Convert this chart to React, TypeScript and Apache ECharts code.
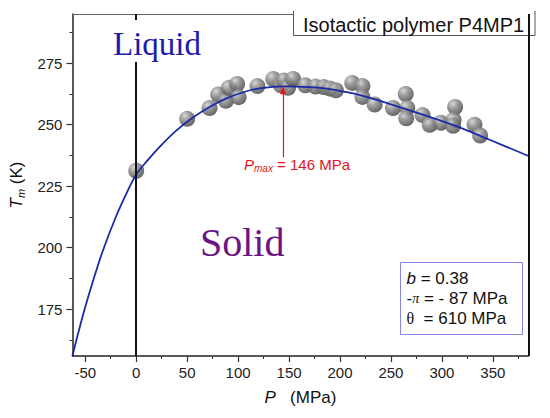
import React, { useEffect, useRef } from 'react';
import * as echarts from 'echarts';

// Measured melting points (P in MPa, Tm in K)
const pressure = [0, 50, 72, 80.5, 88, 91, 99, 100.5, 119, 134.5, 142, 145, 149, 154, 166, 176, 184, 190, 196, 212, 222, 222, 234, 252, 264.5, 266, 265, 281, 288, 299, 313, 311.5, 311, 332, 337.5];
const tempMelt = [231.3, 252.4, 256.8, 262.3, 259.7, 265, 266.6, 261.2, 265.7, 268.6, 266, 268, 265, 268.6, 266, 265.5, 265.3, 264.7, 264, 267, 265.7, 261.3, 258.2, 256.8, 262.5, 256.8, 252.6, 253.9, 250, 250.8, 257.2, 251.9, 249.6, 250, 245.6];

// Fitted melting curve
const curveP = [-62.6, -59, -51, -42, -33, -20, -7, 0, 10, 23, 39, 56, 72, 88, 105, 121, 146, 170, 185, 214, 247, 279, 312, 345, 385];
const curveT = [156, 162, 174.5, 187, 198.5, 212.5, 224.3, 229.8, 235, 241, 247.5, 253, 257.2, 260.6, 263.2, 264.8, 265.6, 265.3, 264.8, 262.6, 258.7, 254.4, 249.7, 244.2, 237.3];

const xMajorTicks = [-50, 0, 50, 100, 150, 200, 250, 300, 350];
const xMinorTicks = [-25, 25, 75, 125, 175, 225, 275, 325, 375];
const yMajorTicks = [175, 200, 225, 250, 275];
const yMinorTicks = [162.5, 187.5, 212.5, 237.5, 262.5, 287.5];
const xRange = [-62.6, 385];
const yRange = [156, 295];
const boundaryP = [0, 385];
const arrowP = 144;
const arrowT = [236.8, 264];

const SANS = 'Liberation Sans';
const SERIF = 'Liberation Serif';

export default function App() {
  const ref = useRef<HTMLDivElement>(null);
  useEffect(() => {
    if (!ref.current) return;
    const chart = echarts.init(ref.current, null, { renderer: 'svg' });
    const grid = { left: 71, right: 21.5, top: 14, bottom: 62 };
    const baseX = { type: 'value', min: xRange[0], max: xRange[1], splitLine: { show: false } };
    const baseY = { type: 'value', min: yRange[0], max: yRange[1], splitLine: { show: false } };
    const sphere = new echarts.graphic.RadialGradient(0.35, 0.3, 0.75, [
      { offset: 0, color: '#d0d0d0' },
      { offset: 0.4, color: '#8c8c8c' },
      { offset: 1, color: '#474747' },
    ]);
    const option: any = {
      animation: false,
      backgroundColor: '#fff',
      grid,
      xAxis: [
        {
          ...baseX,
          position: 'bottom',
          axisLine: { show: true, onZero: false, lineStyle: { color: '#222', width: 1.5 } },
          axisTick: { show: true, inside: false, length: 6, customValues: xMajorTicks, lineStyle: { color: '#333', width: 1.2 } },
          axisLabel: { show: true, customValues: xMajorTicks, margin: 9, fontSize: 15, color: '#222', fontFamily: SANS },
          name: '{i|P}{n|   (MPa)}',
          nameLocation: 'middle',
          nameGap: 33,
          nameTextStyle: {
            rich: {
              i: { fontStyle: 'italic', fontSize: 17, fontFamily: SANS, color: '#111' },
              n: { fontSize: 17, fontFamily: SANS, color: '#111' },
            },
          },
        },
        {
          ...baseX,
          position: 'bottom',
          axisLine: { show: false, onZero: false },
          axisTick: { show: true, inside: false, length: 3, customValues: xMinorTicks, lineStyle: { color: '#333', width: 1 } },
          axisLabel: { show: false },
        },
        {
          ...baseX,
          position: 'top',
          axisLine: { show: true, onZero: false, lineStyle: { color: '#666', width: 1 } },
          axisTick: { show: false },
          axisLabel: { show: false },
        },
      ],
      yAxis: [
        {
          ...baseY,
          position: 'left',
          axisLine: { show: true, onZero: false, lineStyle: { color: '#222', width: 1.5 } },
          axisTick: { show: true, inside: false, length: 6, customValues: yMajorTicks, lineStyle: { color: '#333', width: 1.2 } },
          axisLabel: { show: true, customValues: yMajorTicks, margin: 10, fontSize: 15, color: '#222', fontFamily: SANS },
          name: '{i|T}{s|m}{n| (K)}',
          nameLocation: 'middle',
          nameRotate: 90,
          nameGap: 44,
          nameTextStyle: {
            rich: {
              i: { fontStyle: 'italic', fontSize: 17, fontFamily: SANS, color: '#111' },
              s: { fontStyle: 'italic', fontSize: 11, fontFamily: SANS, color: '#111', padding: [9, 0, 0, 0] },
              n: { fontSize: 17, fontFamily: SANS, color: '#111' },
            },
          },
        },
        {
          ...baseY,
          position: 'left',
          axisLine: { show: false, onZero: false },
          axisTick: { show: true, inside: false, length: 3, customValues: yMinorTicks, lineStyle: { color: '#333', width: 1 } },
          axisLabel: { show: false },
        },
      ],
      series: [
        {
          type: 'scatter',
          xAxisIndex: 0,
          yAxisIndex: 0,
          data: pressure.map((p, i) => [p, tempMelt[i]]),
          symbol: 'circle',
          symbolSize: 16,
          itemStyle: { color: sphere, opacity: 0.85 },
          z: 3,
          silent: true,
        },
        {
          type: 'line',
          xAxisIndex: 0,
          yAxisIndex: 0,
          data: curveP.map((p, i) => [p, curveT[i]]),
          showSymbol: false,
          smooth: 0.3,
          lineStyle: { color: '#1a2aa8', width: 1.8 },
          z: 4,
          silent: true,
          clip: false,
          markLine: {
            silent: true,
            animation: false,
            symbol: ['none', 'none'],
            label: { show: false },
            data: [
              { xAxis: boundaryP[0], lineStyle: { color: '#111', width: 2, type: 'solid' } },
              { xAxis: boundaryP[1], lineStyle: { color: '#111', width: 2, type: 'solid' } },
              [
                { coord: [arrowP, arrowT[0]], symbol: 'none', lineStyle: { color: '#e5141c', width: 1.2, type: 'solid' } },
                { coord: [arrowP, arrowT[1]], symbol: 'triangle', symbolSize: [6, 8] },
              ],
            ],
          },
        },
      ],
      graphic: [
        { type: 'rect', z: 1, shape: { x: 293, y: 9, width: 242, height: 26 }, style: { fill: '#fff' } },
        {
          type: 'polyline', z: 5,
          shape: { points: [[293.5, 11], [293.5, 35.5], [535, 35.5], [535, 11]] },
          style: { stroke: '#555', lineWidth: 1, fill: null },
        },
        {
          type: 'text', z: 6, x: 303, y: 24.5,
          style: { text: 'Isotactic polymer P4MP1', fontSize: 20, fontFamily: SANS, fill: '#111', textAlign: 'left', textVerticalAlign: 'middle' },
        },
        { type: 'rect', z: 9, shape: { x: 128, y: 20, width: 14, height: 42 }, style: { fill: '#fff' } },
        {
          type: 'text', z: 10, x: 113, y: 43.5,
          style: { text: 'Liquid', fontSize: 33, fontFamily: SERIF, fill: '#1c1cab', textAlign: 'left', textVerticalAlign: 'middle' },
        },
        {
          type: 'text', z: 10, x: 200, y: 242.5,
          style: { text: 'Solid', fontSize: 40, fontFamily: SERIF, fill: '#6c1486', textAlign: 'left', textVerticalAlign: 'middle' },
        },
        {
          type: 'text', z: 10, x: 244, y: 164,
          style: {
            text: '{i|P}{s|max}{n| = 146 MPa}',
            textAlign: 'left', textVerticalAlign: 'middle',
            rich: {
              i: { fontStyle: 'italic', fontSize: 15, fontFamily: SANS, fill: '#e5141c' },
              s: { fontStyle: 'italic', fontSize: 10, fontFamily: SANS, fill: '#e5141c', padding: [9, 0, 0, 0] },
              n: { fontSize: 15, fontFamily: SANS, fill: '#e5141c' },
            },
          },
        },
        {
          type: 'rect', z: 8, shape: { x: 400.5, y: 262.5, width: 122, height: 72 },
          style: { fill: '#fff', stroke: '#8585e6', lineWidth: 1 },
        },
        {
          type: 'text', z: 10, x: 406.5, y: 278.6,
          style: {
            text: '{i|b}{n| = 0.38}', textAlign: 'left', textVerticalAlign: 'middle',
            rich: {
              i: { fontStyle: 'italic', fontSize: 17, fontFamily: SANS, fill: '#111' },
              n: { fontSize: 17, fontFamily: SANS, fill: '#111' },
            },
          },
        },
        {
          type: 'text', z: 10, x: 406.5, y: 298,
          style: {
            text: '{n|-}{p|π}{n| = - 87 MPa}', textAlign: 'left', textVerticalAlign: 'middle',
            rich: {
              p: { fontStyle: 'italic', fontSize: 14, fontFamily: SERIF, fill: '#111' },
              n: { fontSize: 17, fontFamily: SANS, fill: '#111' },
            },
          },
        },
        {
          type: 'text', z: 10, x: 406.5, y: 318.6,
          style: {
            text: '{p|θ}{n|  = 610 MPa}', textAlign: 'left', textVerticalAlign: 'middle',
            rich: {
              p: { fontSize: 16, fontFamily: SERIF, fill: '#111' },
              n: { fontSize: 17, fontFamily: SANS, fill: '#111' },
            },
          },
        },
      ],
    };
    chart.setOption(option);
    return () => chart.dispose();
  }, []);
  return <div ref={ref} style={{ position: 'fixed', left: 0, top: 0, width: 550, height: 418, background: '#fff' }} />;
}
